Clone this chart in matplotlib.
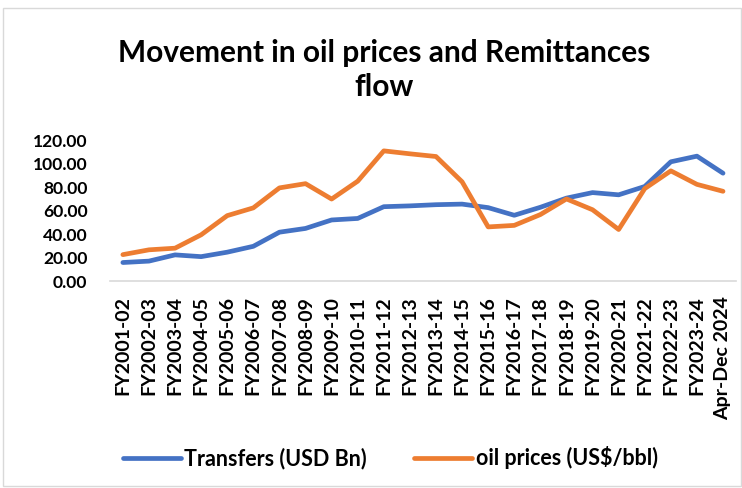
import matplotlib.pyplot as plt
from matplotlib.patches import Rectangle

# data
years = ['FY2001-02', 'FY2002-03', 'FY2003-04', 'FY2004-05', 'FY2005-06',
         'FY2006-07', 'FY2007-08', 'FY2008-09', 'FY2009-10', 'FY2010-11',
         'FY2011-12', 'FY2012-13', 'FY2013-14', 'FY2014-15', 'FY2015-16',
         'FY2016-17', 'FY2017-18', 'FY2018-19', 'FY2019-20', 'FY2020-21',
         'FY2021-22', 'FY2022-23', 'FY2023-24', 'Apr-Dec 2024']
transfers = [15.8, 17.0, 22.3, 20.8, 24.6, 29.6, 41.6, 44.8, 52.0, 53.3,
             63.3, 64.0, 65.0, 65.5, 62.5, 56.0, 62.8, 70.6, 75.3, 73.4,
             80.5, 101.5, 106.3, 91.8]
oil = [22.5, 26.6, 28.0, 39.4, 55.7, 62.3, 79.3, 82.9, 69.8, 85.0,
       110.8, 108.3, 106.0, 84.5, 46.1, 47.4, 56.6, 69.9, 60.7, 43.9,
       78.7, 93.8, 82.3, 76.4]

plt.rcParams['font.family'] = ['Lato', 'DejaVu Sans']
plt.rcParams['font.weight'] = 'bold'

fig = plt.figure(figsize=(7.42, 4.88), dpi=100)
ax = fig.add_axes([0.148, 0.424, 0.844, 0.289])

x = list(range(len(years)))
ax.plot(x, transfers, color='#4472C4', linewidth=3.4, solid_capstyle='round',
        label='Transfers (USD Bn)', clip_on=False)
ax.plot(x, oil, color='#ED7D31', linewidth=3.4, solid_capstyle='round',
        label='oil prices (US$/bbl)', clip_on=False)

ax.set_xlim(-0.5, len(years) - 0.5)
ax.set_ylim(0, 120)
ax.set_yticks(range(0, 121, 20))
ax.set_yticklabels(['%.2f' % v for v in range(0, 121, 20)])
ax.set_xticks(x)
ax.set_xticklabels(years, rotation=90)
ax.tick_params(axis='y', length=0, labelsize=12.6, pad=16)
ax.tick_params(axis='x', length=0, labelsize=14, pad=11)
for lab in ax.get_xticklabels() + ax.get_yticklabels():
    lab.set_fontweight('bold')

for s in ['top', 'right', 'left']:
    ax.spines[s].set_visible(False)
ax.spines['bottom'].set_color('#d9d9d9')
ax.spines['bottom'].set_linewidth(1.2)

fig.text(0.518, 0.857, 'Movement in oil prices and Remittances\nflow',
         ha='center', va='center', fontsize=21.5, fontweight='bold',
         linespacing=1.25)

fig.legend(loc='center', bbox_to_anchor=(0.526, 0.062), ncol=2, frameon=False,
           handlelength=2.7, handletextpad=0.15, columnspacing=2.2,
           prop={'weight': 'bold', 'size': 15.5})

fig.patches.append(Rectangle((0.004, 0.004), 0.995, 0.98, transform=fig.transFigure,
                             fill=False, edgecolor='#d9d9d9', linewidth=1.0))

fig.savefig('out.png', dpi=100)
